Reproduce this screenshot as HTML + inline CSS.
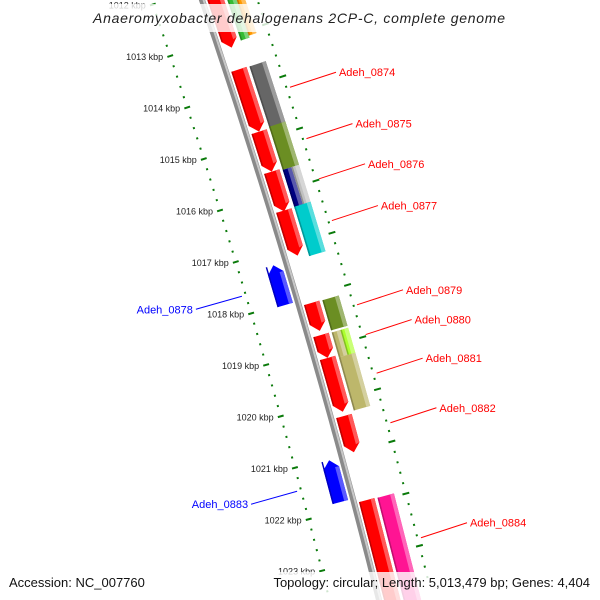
<!DOCTYPE html>
<html><head><meta charset="utf-8"><style>
html,body{margin:0;padding:0;background:#fff}
svg{display:block;font-family:"Liberation Sans",sans-serif}
</style></head><body>
<svg id="map" width="600" height="600" viewBox="0 0 600 600" xmlns="http://www.w3.org/2000/svg">
<rect width="600" height="600" fill="#fff"/>
<g id="bb"></g>
<g id="ticks"></g>
<g id="feats"></g>
<g id="labels"></g>
<rect x="0" y="4" width="600" height="28" fill="#fff" fill-opacity="0.8"/>
<text x="299" y="23" text-anchor="middle" font-size="14" font-style="italic" fill="#222" textLength="412">Anaeromyxobacter dehalogenans 2CP-C, complete genome</text>
<rect x="0" y="572" width="600" height="28" fill="#fff" fill-opacity="0.8"/>
<text x="9" y="587" font-size="13" fill="#111">Accession: NC_007760</text>
<text x="590" y="587" text-anchor="end" font-size="13" fill="#111">Topology: circular; Length: 5,013,479 bp; Genes: 4,404</text>
</svg>
<script>
// data (positions in kbp)
const majorTicks = [1012,1013,1014,1015,1016,1017,1018,1019,1020,1021,1022,1023];
const r1Start = [1012.18,1013.63,1014.83,1015.60,1016.35,1018.13,1018.75,1019.19,1020.31,1021.93];
const r1End   = [1013.21,1014.83,1015.60,1016.37,1017.22,1018.67,1019.19,1020.23,1021.01,1024.20];
const r1Names = ["","Adeh_0874","Adeh_0875","Adeh_0876","Adeh_0877","Adeh_0879","Adeh_0880","Adeh_0881","Adeh_0882","Adeh_0884"];
const r1Arrow = [1,1,1,1,1,1,1,1,1,0];
const r2Start = [1012.29,1012.29,1013.64,1014.80,1015.63,1015.63,1016.34,1018.14,1018.76,1018.76,1019.24,1021.94];
const r2End   = [1013.14,1013.10,1014.86,1015.63,1016.40,1016.40,1017.29,1018.72,1019.24,1019.24,1020.26,1024.20];
const r2Lane  = [1,2,0,0,1,2,0,0,1,2,0,0];
const r2Color = ["#33bb33","#ff9900","#666666","#6b8e23","#000080","#c0c0c0","#00cccc","#6b8e23","#bdb76b","#adff2f","#bdb76b","#ff1493"];
const revStart = [1017.26,1021.03];
const revEnd   = [1018.03,1021.84];
const revNames = ["Adeh_0878","Adeh_0883"];

const NS="http://www.w3.org/2000/svg";
function back(b){return 202+0.34*b-0.000075*b*b;}
function slope(b){return 0.34-0.00015*b;}
function P(b,off){const s=slope(b),L=Math.sqrt(1+s*s);return [back(b)+off/L,b-off*s/L];}
function Y(k){return 248+(k-1017)*51.8;}
function pts(a){return a.map(p=>p[0].toFixed(1)+","+p[1].toFixed(1)).join(" ");}
function mk(tag,parent){const e=document.createElementNS(NS,tag);parent.appendChild(e);return e;}
function shade(hex,f){let r=parseInt(hex.substr(1,2),16),g=parseInt(hex.substr(3,2),16),bb=parseInt(hex.substr(5,2),16);
 const m=c=>Math.max(0,Math.min(255,Math.round(f>0?c+(255-c)*f:c*(1+f))));return "rgb("+m(r)+","+m(g)+","+m(bb)+")";}

// backbone
const bbG=document.getElementById('bb');
function line(off){let d="";for(let b=-20;b<=620;b+=10){const p=P(b,off);d+=(d?"L":"M")+p[0].toFixed(1)+","+p[1].toFixed(1);}return d;}
const bb1=mk('path',bbG);


bb1.setAttribute('d',line(0));bb1.setAttribute('stroke','#8a8a8a');bb1.setAttribute('stroke-width','6');bb1.setAttribute('fill','none');
const bb2=mk('path',bbG);


bb2.setAttribute('d',line(1.5));bb2.setAttribute('stroke','#c8c8c8');bb2.setAttribute('stroke-width','2');bb2.setAttribute('fill','none');

// ticks
const tG=document.getElementById('ticks');
function seg(b,o1,o2,w,name){const a=P(b,o1),c=P(b,o2);const l=mk('line',tG);
 
 
 l.setAttribute('x1',a[0]);l.setAttribute('y1',a[1]);l.setAttribute('x2',c[0]);l.setAttribute('y2',c[1]);
 l.setAttribute('stroke','#0a7a0a');l.setAttribute('stroke-width',w);}
for(let i=majorTicks[0]*5-2;i<=majorTicks[majorTicks.length-1]*5+3;i++){
 const k=i/5,b=Y(k);
 if(i%5===0){seg(b,-51,-45,2,'major-tick');seg(b,49,56,2,'major-tick');}
 else{seg(b,-49,-47,2,'minor-tick');seg(b,51.5,53.5,2,'minor-tick');}
}
majorTicks.forEach(k=>{const p=P(Y(k),-48);const t=mk('text',tG);
 
 
 t.setAttribute('x',(p[0]-7).toFixed(1));t.setAttribute('y',(p[1]+4).toFixed(1));
 t.setAttribute('text-anchor','end');t.setAttribute('font-size','9');t.setAttribute('fill','#222');
 t.textContent=k+" kbp";});

// features
const fG=document.getElementById('feats');
function feature(k1,k2,i0,i1,color,dir,name){
 const b1=Y(k1),b2=Y(k2),a=8,m=(i0+i1)/2;let poly,hl;
 if(dir===1){poly=[P(b1,i0),P(b1,i1),P(b2-a,i1),P(b2,m),P(b2-a,i0)];
  hl=[P(b1,i1-4),P(b1,i1),P(b2-a,i1),P(b2-a+1,i1-4)];}
 else if(dir===-1){poly=[P(b1+a,i0),P(b1,m),P(b1+a,i1),P(b2,i1),P(b2,i0)];
  hl=[P(b1+a,i1-4),P(b1+a,i1),P(b2,i1),P(b2,i1-4)];}
 else{poly=[P(b1,i0),P(b1,i1),P(b2,i1),P(b2,i0)];hl=[P(b1,i1-4),P(b1,i1),P(b2,i1),P(b2,i1-4)];}
 const g=mk('g',fG);
 
 
 const p1=mk('polygon',g);p1.setAttribute('points',pts(poly));p1.setAttribute('fill',color);
 const p2=mk('polygon',g);p2.setAttribute('points',pts(hl));p2.setAttribute('fill',shade(color,0.35));
 const p3=mk('polygon',g);p3.setAttribute('points',pts([P(b1,i0),P(b1,i0+1.5),P(b2-(dir===1?a:0),i0+1.5),P(b2-(dir===1?a:0),i0)]));p3.setAttribute('fill',shade(color,-0.25));
}
r1Start.forEach((s,i)=>feature(s,r1End[i],5,21,"#ff0000",r1Arrow[i],'forward-gene'));
r2Start.forEach((s,i)=>{const ln=r2Lane[i];const i0=ln===2?33:24,i1=ln===1?33:41;
 feature(s,r2End[i],i0,i1,r2Color[i],0,'category-gene');});
revStart.forEach((s,i)=>feature(s,revEnd[i],-21,-5,"#0000ff",-1,'reverse-gene'));

// labels
const lG=document.getElementById('labels');
function label(k1,k2,off,dx,dy,txt,color,anchor){
 const b=(Y(k1)+Math.min(Y(k2),600))/2;const p=P(b,off);
 const l=mk('line',lG);
 
 
 l.setAttribute('x1',p[0]);l.setAttribute('y1',p[1]);l.setAttribute('x2',p[0]+dx);l.setAttribute('y2',p[1]+dy);
 l.setAttribute('stroke',color);l.setAttribute('stroke-width','1');
 const t=mk('text',lG);
 
 
 t.setAttribute('x',p[0]+dx+(anchor==='end'?-3:3));t.setAttribute('y',p[1]+dy+4);
 t.setAttribute('text-anchor',anchor);t.setAttribute('font-size','11');t.setAttribute('fill',color);
 t.textContent=txt;}
r1Names.forEach((n,i)=>{if(n)label(r1Start[i],r1End[i],56,46,-15,n,"#ff0000",'start');});
revNames.forEach((n,i)=>label(revStart[i],revEnd[i],-52,-46,13,n,"#0000ff",'end'));
</script>
</body></html>
